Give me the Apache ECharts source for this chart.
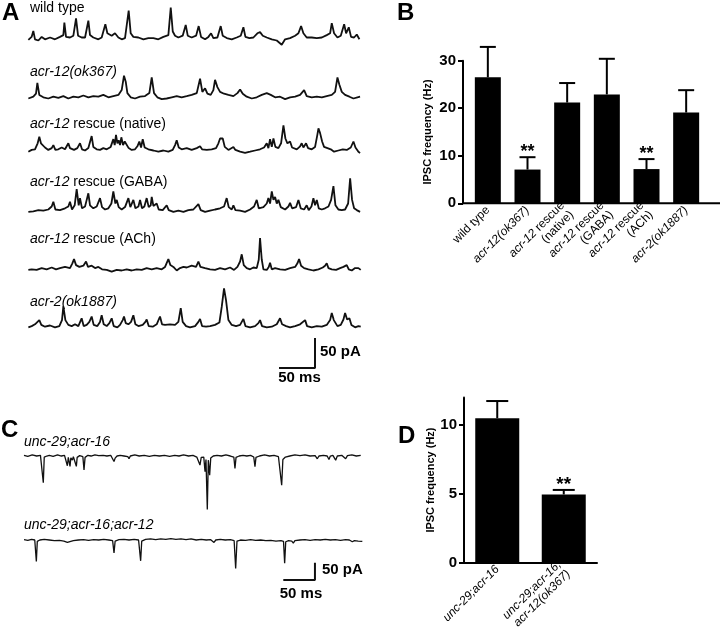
<!DOCTYPE html>
<html><head><meta charset="utf-8">
<script src="https://cdn.jsdelivr.net/npm/echarts@6/dist/echarts.min.js"></script>
<style>html,body{margin:0;padding:0;background:#fff}#c{width:720px;height:633px}</style>
</head><body><div id="c"></div>
<script>
// ---------- DATA (time in ms, current in pA) ----------
const traceNamesA = ['wild type', 'acr-12(ok367)', 'acr-12 rescue (native)', 'acr-12 rescue (GABA)', 'acr-12 rescue (ACh)', 'acr-2(ok1887)'];
const traceWT = [[0.5,-1],[5,4],[7.4,14],[9.7,0],[14.4,-2],[19,4],[23.6,0],[30.6,3],[37.5,0],[44.4,4],[49.1,7],[50.5,28],[52.8,4],[58.3,3],[63,6],[66.7,35],[69.5,6],[74.5,3],[79.2,3],[83.8,31],[86.1,7],[90.7,3],[97.7,0],[102.3,3],[107.4,25],[110.2,10],[116.2,6],[120.8,10],[125.5,3],[130.1,0],[134.7,2],[139.8,48],[142.6,10],[146.3,4],[153.3,3],[160.2,0],[167.1,2],[174.1,2],[181,0],[188,4],[194.9,7],[198.2,53],[201,13],[204.2,6],[208.8,3],[214.8,6],[219,24],[221.8,6],[227.3,3],[233.4,6],[237,22],[240.3,4],[245.9,0],[250.5,4],[254.2,10],[257.4,2],[263,3],[267.6,22],[270.4,6],[276,2],[282.9,0],[289.8,3],[295.4,6],[299.1,20],[301.9,4],[307.4,2],[313,3],[318.5,10],[322.2,12],[326,6],[331.5,3],[338.5,0],[345.4,-2],[352.3,-9],[357,0],[363.9,2],[370.9,6],[375.5,10],[379.2,22],[382.4,10],[387,3],[394,3],[401,2],[408,3],[414.8,7],[419.5,10],[421.8,27],[425,10],[429.7,3],[434.3,6],[439,25],[441.7,10],[445.4,20],[448.6,4],[452.8,3],[456.5,8],[460.2,0]];
const traceOk367 = [[0.5,-2],[7.4,1],[11.1,6],[13,24],[15.7,4],[21.3,0],[28.2,-2],[35.2,1],[42.1,-1],[49.1,2],[56,-2],[63,1],[69.9,0],[76.9,3],[83.8,0],[90.7,2],[97.7,1],[104.6,4],[111.6,0],[118.5,2],[125.5,4],[130.1,12],[133.3,36],[135.7,26],[138,7],[142.6,0],[148.6,-2],[155.6,1],[162.5,2],[168.5,7],[171.8,33],[175,7],[179.6,0],[185.7,-3],[192.6,-2],[199.6,0],[206.5,2],[213.4,0],[220.4,2],[227.3,4],[234.3,7],[238.9,31],[242.1,9],[245.9,15],[249.1,6],[253.7,4],[257.4,12],[259.7,29],[263,17],[266.7,9],[272.2,6],[278.3,4],[285.2,2],[290.8,7],[294.5,13],[298.2,6],[303.7,1],[310.7,-2],[317.6,0],[324.6,4],[331.5,7],[337.1,4],[343.1,0],[350,1],[357,-3],[363.9,0],[370.9,1],[377.8,4],[383.4,12],[387,2],[394,0],[401,1],[408,0],[414.8,2],[421.8,4],[426.4,9],[429.7,33],[432.4,21],[435.7,9],[440.3,4],[446.3,1],[451.9,-2],[457.4,0],[461.1,1]];
const traceNative = [[0.5,0],[5.1,3],[9.7,4],[13.4,14],[15.7,25],[18,14],[20.4,15],[23.6,7],[28.2,3],[32.9,6],[35.2,11],[38,3],[42.1,4],[46.8,7],[51.4,4],[56,14],[58.3,6],[60.7,9],[63.9,3],[68.5,6],[72.2,14],[75,4],[79.2,2],[83.8,6],[88.4,26],[90.7,8],[95.4,4],[100,3],[104.6,6],[109.3,4],[114.8,8],[118.5,21],[120.4,11],[122.2,28],[124.1,14],[125.9,19],[127.8,11],[129.6,24],[132,11],[134.3,17],[137,14],[139.8,6],[144,3],[148.6,4],[151.9,9],[154.6,17],[157,7],[159.3,21],[162,7],[167.1,4],[174.1,2],[181,0],[188,2],[194.9,0],[200.9,3],[204.2,11],[206.5,19],[209.3,7],[213.4,4],[220.4,6],[227.3,3],[234.3,6],[238.9,9],[241.7,4],[248.2,3],[255.1,4],[261.1,6],[264.4,14],[266.7,22],[270.4,22],[273.2,8],[278.3,3],[285.2,8],[288,3],[294.5,0],[301.4,-2],[308.4,0],[315.3,2],[322.2,4],[327.8,7],[331.5,14],[333.8,6],[336.1,21],[338.5,8],[340.8,22],[343.5,8],[347.7,6],[351.4,14],[354.7,44],[357.4,22],[360.2,14],[363.9,17],[366.7,7],[373.2,4],[377.8,9],[380.1,14],[382.4,7],[386.1,14],[388.9,6],[394,4],[398.6,8],[401.9,29],[403.3,39],[405.6,31],[408.4,17],[411.1,8],[415.8,6],[420.4,4],[425,0],[431,2],[437.1,4],[442.6,3],[448.2,7],[451.9,17],[454.7,7],[458.8,0],[461.1,-2]];
const traceGABA = [[0.5,-2],[7.4,-1],[14.4,1],[21.3,0],[28.2,2],[32.9,7],[35.2,15],[38,2],[44.4,1],[51.4,4],[56,7],[58.3,15],[61.1,2],[64.8,9],[67.6,36],[70.4,9],[72.2,21],[75,4],[79.2,7],[81.5,18],[83.8,29],[86.1,9],[90.7,4],[95.4,7],[100,21],[102.8,6],[107,2],[111.6,4],[115.8,12],[118.5,32],[121.3,12],[123.2,18],[125.9,6],[130.1,2],[134.7,6],[139.4,21],[142.1,6],[146.3,18],[149.1,4],[153.3,7],[155.6,18],[158.3,4],[161.6,7],[164.8,21],[167.6,6],[170.4,9],[171.8,23],[174.1,8],[178.7,12],[181.5,2],[187.1,1],[192.6,9],[195.4,1],[201.9,-2],[208.8,0],[215.8,-2],[222.7,1],[229.6,2],[236.6,11],[239.8,1],[245.9,-2],[252.8,0],[259.7,2],[266.7,4],[272.2,7],[275.9,21],[278.7,6],[282.9,2],[285.2,9],[288,1],[294.5,0],[301.4,-2],[308.4,2],[313.9,7],[317.6,18],[320.4,4],[326.9,6],[331.5,12],[333.8,21],[336.1,12],[338.5,32],[340.8,18],[343.1,23],[345.4,12],[347.7,18],[351,6],[357,2],[361.6,7],[363.9,13],[366.7,4],[372.3,6],[375.5,18],[378.7,4],[383.4,2],[387,9],[389.8,1],[393.6,7],[396.3,21],[398.6,9],[401,18],[403.7,4],[407.9,2],[412.5,4],[417.2,7],[420.9,18],[424.1,41],[426.9,9],[431,2],[435.7,1],[440.3,2],[444.5,12],[447.3,54],[450,18],[452.8,4],[456.5,1],[461.1,-2]];
const traceACh = [[0.5,-1],[5.1,0],[12,-1],[19,2],[25.9,0],[32.9,3],[38.9,0],[44.4,2],[51.4,4],[58.3,2],[61.6,10],[63.9,17],[66.7,7],[71.3,4],[76.9,6],[80.6,13],[83.3,4],[88.4,6],[93.1,2],[97.7,4],[100,7],[102.8,0],[109.3,-1],[116.2,-4],[123.2,-1],[130.1,-2],[137,0],[144,-2],[150.9,0],[157.9,-1],[164.8,2],[171.8,0],[178.7,2],[185.7,0],[190.3,4],[194.9,17],[197.7,7],[201.9,4],[206.5,-2],[211.1,2],[215.8,4],[220.4,3],[227.3,6],[233.4,4],[236.6,13],[239.4,4],[245.9,2],[252.8,0],[259.7,-1],[266.7,2],[273.6,0],[280.6,3],[286.1,-1],[290.8,4],[294.5,13],[296.8,25],[299.6,7],[303.7,2],[308.4,0],[313,3],[317.6,2],[320.4,16],[322.2,52],[324.6,16],[326.9,0],[331.5,-1],[334.3,4],[336.1,11],[338.5,0],[343.1,2],[350,0],[357,-1],[363.9,2],[370.9,4],[374.1,10],[376.4,17],[379.2,6],[383.4,2],[389.4,0],[396.3,-2],[403.3,0],[409.3,3],[412.5,6],[414.8,10],[417.2,2],[421.8,0],[427.8,-1],[433.4,2],[438,4],[442.6,7],[445.4,0],[449.6,-2],[454.2,2],[458.8,2],[462,-1]];
const traceAcr2 = [[0.5,-1],[5.1,1],[9.7,4],[15.7,11],[18.5,3],[23.6,0],[30.6,2],[37.5,-1],[43.5,1],[47.2,11],[49.1,34],[51.9,11],[56,3],[60.7,1],[65.3,4],[69.9,1],[74.5,14],[77.3,1],[81.5,3],[85.2,8],[88.4,17],[91.2,3],[96.3,1],[100,8],[102.3,19],[105.1,4],[109.3,1],[113,6],[116.2,14],[119,1],[124.1,-1],[127.8,3],[131.5,11],[133.3,17],[135.7,6],[139.4,4],[143.1,8],[146.3,19],[149.1,4],[153.3,1],[159.3,3],[163,8],[164.8,12],[167.6,1],[173.2,0],[178.7,4],[183.3,17],[186.1,4],[190.3,3],[197.2,4],[204.2,3],[208.8,8],[212.1,31],[214.8,8],[219.5,1],[225,-1],[232,1],[236.6,8],[238.9,13],[241.7,1],[247.2,0],[252.8,1],[259.7,3],[265.8,7],[269,33],[272.2,64],[275,44],[278.3,11],[282.9,3],[288.9,1],[294.5,3],[299.1,13],[301.9,1],[308.4,-1],[315.3,1],[319.9,6],[322.2,11],[325,1],[331.5,-1],[338.5,0],[345.4,4],[350,14],[352.8,4],[358.4,1],[363.9,-1],[370.9,1],[377.8,4],[384.8,11],[387.5,1],[394,-1],[401,1],[408,0],[414.8,3],[419.5,11],[421.8,23],[424.6,11],[429.7,1],[434.3,3],[438,12],[440.3,23],[443.1,12],[446.3,14],[449.1,3],[454.2,-1],[458.8,1],[462,0]];

const traceNamesC = ['unc-29;acr-16', 'unc-29;acr-16;acr-12'];
const traceC1 = [[0,2],[6,-1],[13,3],[20,0],[26,2],[29,-2],[30.5,-77],[32,-3],[36,0],[40,2],[46,-1],[53,3],[59,0],[64,2],[67,-2],[68.5,-28],[70,-4],[71.5,-2],[72.7,-30],[74,-5],[76.4,-12],[78,-2],[81,-3],[82.7,-30],[84,-4],[88,1],[93,-2],[94.8,-40],[96.5,-4],[101,2],[106,0],[112,3],[118,1],[125,2],[131,0],[137,2],[140,-3],[142.2,-16],[144,-6],[147,0],[152,2],[158,0],[164,-2],[165.9,-8],[168,0],[175,3],[182,0],[190,2],[198,-1],[206,2],[214,0],[222,2],[230,-1],[238,2],[245,0],[252,3],[260,0],[267,2],[273,-3],[275,-4],[278,-26],[280,-4],[284,-3],[286,-45],[287.5,-10],[289.6,-154],[291.2,-12],[293.3,-55],[295,-6],[299,0],[305,2],[312,0],[319,3],[326,0],[331.5,-3],[333.3,-36],[335,-4],[340,0],[346,2],[352,0],[358,2],[363,-3],[364.9,-31],[366.5,-4],[372,0],[380,3],[388,0],[395,2],[402,-2],[405,-6],[407.1,-84],[409,-10],[413,-3],[420,0],[428,3],[436,1],[444,3],[452,0],[460,1],[463.4,-8],[466,0],[473,2],[479,0],[481.8,-10],[484,0],[488,2],[492.4,-12],[495,0],[502,2],[508.2,-8],[511,1],[518,3],[525,0],[532,2]];
const traceC2 = [[0,1],[6,-1],[12,2],[17,0],[18.5,-3],[19.5,-62],[21,-4],[25,0],[32,2],[40,0],[48,-2],[56,-1],[63,-3],[68.5,-7],[71,-3],[78,-2],[86,0],[94,1],[102,-1],[110,1],[118,0],[126,2],[134,0],[140,-2],[142.2,-37],[144,-3],[150,1],[158,2],[166,0],[174,2],[181,0],[184.3,-60],[186,-3],[192,2],[200,3],[208,1],[216,3],[224,2],[232,4],[240,2],[248,3],[256,1],[264,3],[272,0],[280,2],[288,0],[295,1],[300.2,-7],[303,0],[310,2],[318,0],[326,1],[332,-2],[334.4,-82],[336.5,-3],[342,0],[350,-1],[358,1],[366,-1],[374,0],[382,-2],[390,-1],[398,-3],[406,-2],[410,-4],[411.8,-67],[413.5,-5],[418,-2],[423,-3],[425.5,-9],[428,-2],[436,0],[444,1],[452,-1],[460,1],[468,0],[476,2],[484,0],[492,1],[500,-1],[508,1],[514,0],[518.7,-5],[522,-2],[528,-3],[534.5,-4]];

const scaleBar = { ms: 50, pA: 50 };

const catsB = ['wild type', 'acr-12(ok367)', 'acr-12 rescue (native)', 'acr-12 rescue (GABA)', 'acr-12 rescue (ACh)', 'acr-2(ok1887)'];
const meansB = [26.5, 7.1, 21.2, 22.9, 7.2, 19.1];
const semB = [6.4, 2.6, 4.1, 7.5, 2.1, 4.7];
const sigB = ['', '**', '', '', '**', ''];
const ticksB = [0, 10, 20, 30];

const catsD = ['unc-29;acr-16', 'unc-29;acr-16;acr-12(ok367)'];
const meansD = [10.5, 4.95];
const semD = [1.25, 0.33];
const sigD = ['', '**'];
const ticksD = [0, 5, 10];

// ---------- LAYOUT ----------
const FF = '"Liberation Sans", Arial, Helvetica, sans-serif';
const chart = echarts.init(document.getElementById('c'));

const grids = [], xAxes = [], yAxes = [], series = [];
function addTraceGrid(data, left, width, top, height, xMax, yMin, yMax, lw) {
  const gi = grids.length;
  grids.push({ left, width, top, height });
  xAxes.push({ type: 'value', gridIndex: gi, min: 0, max: xMax, show: false });
  yAxes.push({ type: 'value', gridIndex: gi, min: yMin, max: yMax, show: false });
  series.push({ type: 'line', xAxisIndex: gi, yAxisIndex: gi, data, showSymbol: false, clip: false,
    lineStyle: { color: '#111', width: lw }, silent: true });
}
// Panel A traces: 0.72 px/ms, 0.6 px/pA
const tracesA = [traceWT, traceOk367, traceNative, traceGABA, traceACh, traceAcr2];
const baseA = [39.3, 97.3, 151.7, 210.7, 269.3, 326.7];
tracesA.forEach((d, i) => addTraceGrid(d, 28, 332, baseA[i] - 36, 48, 461, -20, 60, 1.8));
// A scale bar
addTraceGrid([[0, 0], [scaleBar.ms, 0], [scaleBar.ms, scaleBar.pA]], 279, 36, 338, 30, scaleBar.ms, 0, scaleBar.pA, 2);
// Panel C traces: 0.633 px/ms, 0.347 px/pA
const tracesC = [traceC1, traceC2];
const baseC = [456, 540];
tracesC.forEach((d, i) => addTraceGrid(d, 24, 338, baseC[i] - 6.94, 62.5, 534, -160, 20, 1.3));
addTraceGrid([[0, 0], [scaleBar.ms, 0], [scaleBar.ms, scaleBar.pA]], 283.3, 31.65, 562.7, 17.35, scaleBar.ms, 0, scaleBar.pA, 2);

// Bar charts
function fmtB(v) {
  let m = v.match(/^(acr-\d+) rescue (\(.*\))$/);
  if (m) return '{i|' + m[1] + '}{n| rescue}\n{n|' + m[2] + '}';
  if (/^acr-/.test(v)) return '{i|' + v + '}';
  return '{n|' + v + '}';
}
function fmtD(v) {
  const parts = v.split(';');
  if (parts.length > 2) return '{i|' + parts.slice(0, 2).join(';') + ';}\n{i|' + parts.slice(2).join(';') + '}';
  return '{i|' + v + '}';
}
function richFor(fs) {
  return {
    n: { fontSize: fs, fontFamily: FF, color: '#000', lineHeight: fs + 1 },
    i: { fontSize: fs, fontFamily: FF, fontStyle: 'italic', color: '#000', lineHeight: fs + 1 }
  };
}
function errRender(capW, sig, fs) {
  return function (params, api) {
    const i = api.value(0), m = api.value(1), e = api.value(2);
    const p0 = api.coord([i, m]), p1 = api.coord([i, m + e]);
    const x = p0[0];
    const ch = [
      { type: 'line', shape: { x1: x, y1: p0[1], x2: x, y2: p1[1] }, style: { stroke: '#000', lineWidth: 2 } },
      { type: 'line', shape: { x1: x - capW / 2, y1: p1[1], x2: x + capW / 2, y2: p1[1] }, style: { stroke: '#000', lineWidth: 2 } }
    ];
    if (sig[params.dataIndex]) ch.push({ type: 'text', x: x, y: p1[1] - 5,
      style: { text: sig[params.dataIndex], font: 'bold ' + fs + 'px ' + FF, fill: '#000', align: 'center', verticalAlign: 'middle', textAlign: 'center', textVerticalAlign: 'middle' } });
    return { type: 'group', children: ch };
  };
}
function addBarGrid(cats, means, sems, sig, ticks, g, yMax, barW, capW, fmt, nameGap, yOffset, showXLine, sigFs) {
  const gi = grids.length;
  grids.push(g);
  xAxes.push({ type: 'category', gridIndex: gi, data: cats,
    axisLine: { show: showXLine, lineStyle: { color: '#000', width: 2 } }, axisTick: { show: false },
    axisLabel: { rotate: 45, margin: 5, interval: 0, formatter: fmt, rich: richFor(12) } });
  yAxes.push({ type: 'value', gridIndex: gi, min: 0, max: yMax, offset: yOffset,
    name: 'IPSC frequency (Hz)', nameLocation: 'middle', nameGap,
    nameTextStyle: { fontFamily: FF, fontWeight: 'bold', fontSize: 11, color: '#000' },
    axisLine: { show: true, lineStyle: { color: '#000', width: 2 } },
    axisTick: { show: true, length: 5, lineStyle: { color: '#000', width: 2 }, customValues: ticks },
    axisLabel: { customValues: ticks, margin: 7, fontFamily: FF, fontWeight: 'bold', fontSize: 15, color: '#000' },
    splitLine: { show: false } });
  series.push({ type: 'bar', xAxisIndex: gi, yAxisIndex: gi, data: means, barWidth: barW,
    itemStyle: { color: '#000' }, silent: true, z: 2 });
  series.push({ type: 'custom', xAxisIndex: gi, yAxisIndex: gi, clip: false, z: 3, silent: true,
    data: means.map((m, i) => [i, m, sems[i]]), encode: { x: 0, y: 1 },
    renderItem: errRender(capW, sig, sigFs) });
}
addBarGrid(catsB, meansB, semB, sigB, ticksB, { left: 468, width: 238, top: 60.7, height: 142.6 }, 30, 26, 16, fmtB, 30, 5, false, 18);
addBarGrid(catsD, meansD, semD, sigD, ticksD, { left: 464, width: 133, top: 397.6, height: 170.4 }, 12, 44, 22, fmtD, 26, 0, true, 19);

// ---------- TEXT ----------
const graphic = [];
function txt(x, y, text, opt) {
  const fs = opt.fs || 14;
  graphic.push({ type: 'text', x, y, silent: true, style: Object.assign({
    text, font: (opt.bold ? 'bold ' : '') + (opt.italic ? 'italic ' : '') + fs + 'px ' + FF, fill: '#000',
    align: opt.align || 'left', verticalAlign: 'middle', textAlign: opt.align || 'left', textVerticalAlign: 'middle'
  }, opt.rich ? { rich: {
    n: { fontSize: fs, fontFamily: FF, fontStyle: 'normal', fontWeight: 'normal', fill: '#000' },
    i: { fontSize: fs, fontFamily: FF, fontStyle: 'italic', fontWeight: 'normal', fill: '#000' } } } : {}) });
}
function richName(v) {
  let m = v.match(/^(acr-\d+)( rescue .*)$/);
  if (m) return '{i|' + m[1] + '}{n|' + m[2] + '}';
  if (/^(acr|unc)-/.test(v)) return '{i|' + v + '}';
  return '{n|' + v + '}';
}
const labelYA = [8, 72, 124, 182.5, 239, 302.5];
traceNamesA.forEach((n, i) => txt(30, labelYA[i], richName(n), { rich: true }));
const labelYC = [442, 525];
traceNamesC.forEach((n, i) => txt(24, labelYC[i], richName(n), { rich: true }));
txt(320, 352, scaleBar.pA + ' pA', { bold: true, fs: 15 });
txt(299.5, 378, scaleBar.ms + ' ms', { bold: true, fs: 15, align: 'center' });
txt(322, 570, scaleBar.pA + ' pA', { bold: true, fs: 15 });
txt(301, 594, scaleBar.ms + ' ms', { bold: true, fs: 15, align: 'center' });
txt(2, 13.5, 'A', { bold: true, fs: 24 });
txt(397, 13.5, 'B', { bold: true, fs: 24 });
txt(1, 430, 'C', { bold: true, fs: 24 });
txt(398, 436, 'D', { bold: true, fs: 24 });
// B baseline axis line (extends across the full panel)
graphic.push({ type: 'line', silent: true, shape: { x1: 462, y1: 203.3, x2: 720, y2: 203.3 }, style: { stroke: '#000', lineWidth: 2 }, z: 10 });

chart.setOption({
  animation: false,
  textStyle: { fontFamily: FF },
  grid: grids, xAxis: xAxes, yAxis: yAxes, series, graphic
});
</script></body></html>
